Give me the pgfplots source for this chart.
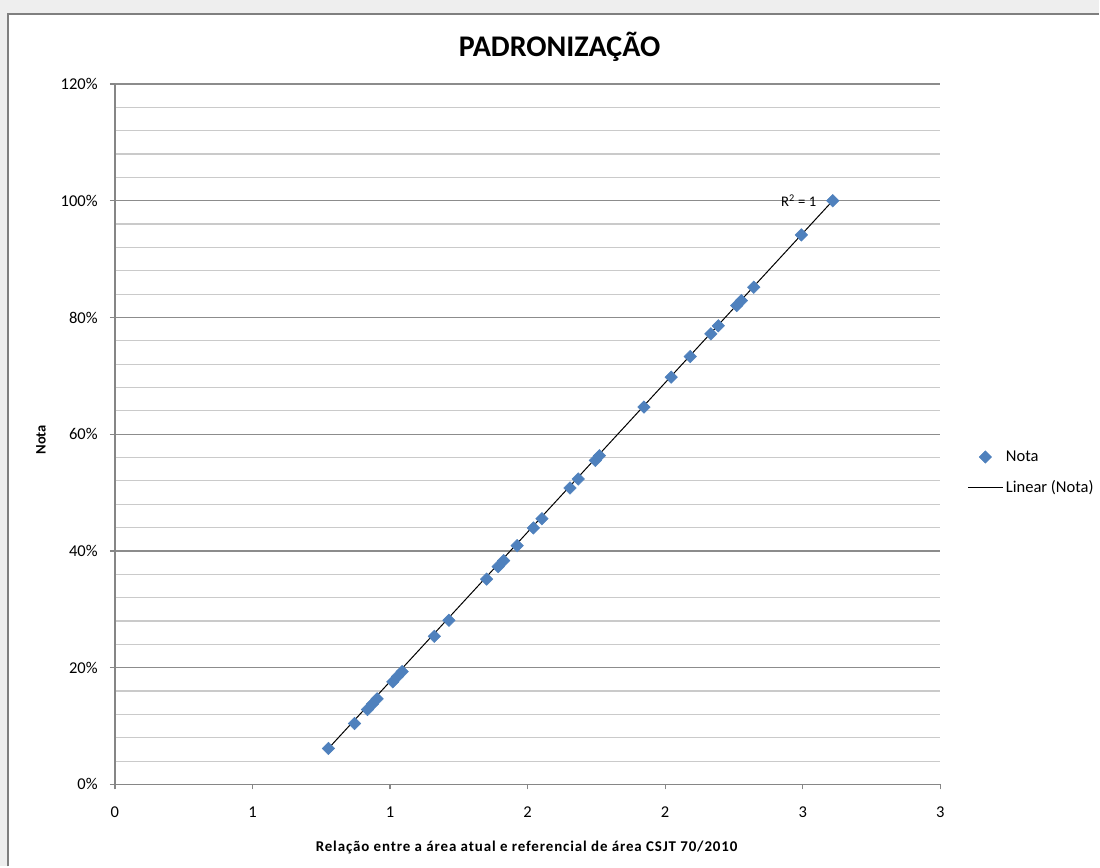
\documentclass[border=0pt]{standalone}
\usepackage{pgfplots}
\pgfplotsset{compat=1.18}
\usepackage{fontspec}
\setmainfont{Carlito}
\definecolor{markblue}{HTML}{4F81BD}
\definecolor{gridmajor}{HTML}{8C8C8C}
\definecolor{gridminor}{HTML}{CACACA}
\definecolor{axisgray}{HTML}{868686}
\definecolor{bggray}{HTML}{EEEEEE}
\definecolor{framegray}{HTML}{7F7F7F}

\pgfplotsset{
  legmark/.style={legend image code/.code={\draw[mark repeat=2,mark phase=2,##1] plot coordinates {(0pt,0pt) (13pt,0pt) (26pt,0pt)};}},
  legline/.style={legend image code/.code={\draw[##1] (0pt,0pt) -- (26pt,0pt);}},
}

\pgfplotstableread{
x y
0.776 6.16
0.871 10.44
0.918 12.83
0.936 13.78
0.953 14.67
1.010 17.58
1.027 18.48
1.044 19.34
1.161 25.38
1.214 28.12
1.351 35.17
1.393 37.31
1.413 38.34
1.462 40.90
1.521 43.93
1.552 45.52
1.654 50.78
1.684 52.32
1.746 55.50
1.761 56.31
1.923 64.64
2.022 69.77
2.091 73.30
2.166 77.19
2.193 78.56
2.260 82.03
2.277 82.89
2.322 85.18
2.495 94.13
2.609 100.00
}\notadata

\begin{document}
\begin{tikzpicture}
% background and chart frame (1 px = 0.75pt)
\fill[bggray] (0pt,0pt) rectangle (825pt,650.25pt);
\fill[white] (6pt,0pt) rectangle (825pt,639.75pt);
\draw[framegray,line width=1.2pt] (6pt,0pt) -- (6pt,639.75pt) -- (825pt,639.75pt);

\begin{axis}[
  at={(86.25pt,61.5pt)}, anchor=south west,
  scale only axis,
  width=619.5pt, height=525.75pt,
  xmin=0, xmax=3, ymin=0, ymax=120,
  axis lines*=left,
  axis line style={axisgray, line width=0.9pt},
  xtick={0,0.5,1,1.5,2,2.5,3},
  xticklabels={0,1,1,2,2,3,3},
  ytick={0,20,40,60,80,100,120},
  yticklabels={0\%,20\%,40\%,60\%,80\%,100\%,120\%},
  minor y tick num=4,
  ymajorgrids, yminorgrids,
  major grid style={gridmajor, line width=0.9pt},
  minor grid style={gridminor, line width=0.8pt},
  tick align=outside,
  major tick length=3.75pt,
  minor tick length=0pt,
  tick style={axisgray, line width=0.9pt},
  ticklabel style={font=\fontsize{12.4}{14}\selectfont, inner sep=0pt},
  /pgf/number format/assume math mode=true,
  yticklabel style={xshift=-9pt},
  xticklabel style={yshift=-13pt},
  clip=false,
  legend style={draw=none, fill=none, at={(1.0327,0.445)}, anchor=west,
    font=\fontsize{12.4}{14}\selectfont, row sep=9pt, inner sep=0pt,
    nodes={inner sep=2pt, xshift=1.5pt}},
  legend cell align=left,
]
\addplot[only marks, mark=square*, mark size=3.3pt,
  mark options={rotate=45, fill=markblue, draw=markblue}, legmark]
  table[x=x,y=y] {\notadata};
\addlegendentry{Nota}
\addplot[black, line width=0.75pt, no marks, legline]
  coordinates {(0.776,6.16) (2.609,100)};
\addlegendentry{Linear (Nota)}
\node[anchor=east, font=\fontsize{11}{13}\selectfont, inner sep=0pt] at (axis cs:2.550,100) {R\textsuperscript{2} = 1};
\end{axis}

% titles
\node[font=\fontsize{22.5}{26}\selectfont\bfseries] at (420pt,615pt) {PADRONIZAÇÃO};
\node[font=\fontsize{11.2}{13}\selectfont\bfseries\addfontfeature{LetterSpace=6}] at (395.25pt,14.25pt) {Relação entre a área atual e referencial de área CSJT 70/2010};
\node[font=\fontsize{10.9}{13}\selectfont\bfseries, rotate=90] at (30.75pt,320.25pt) {Nota};
\end{tikzpicture}
\end{document}
